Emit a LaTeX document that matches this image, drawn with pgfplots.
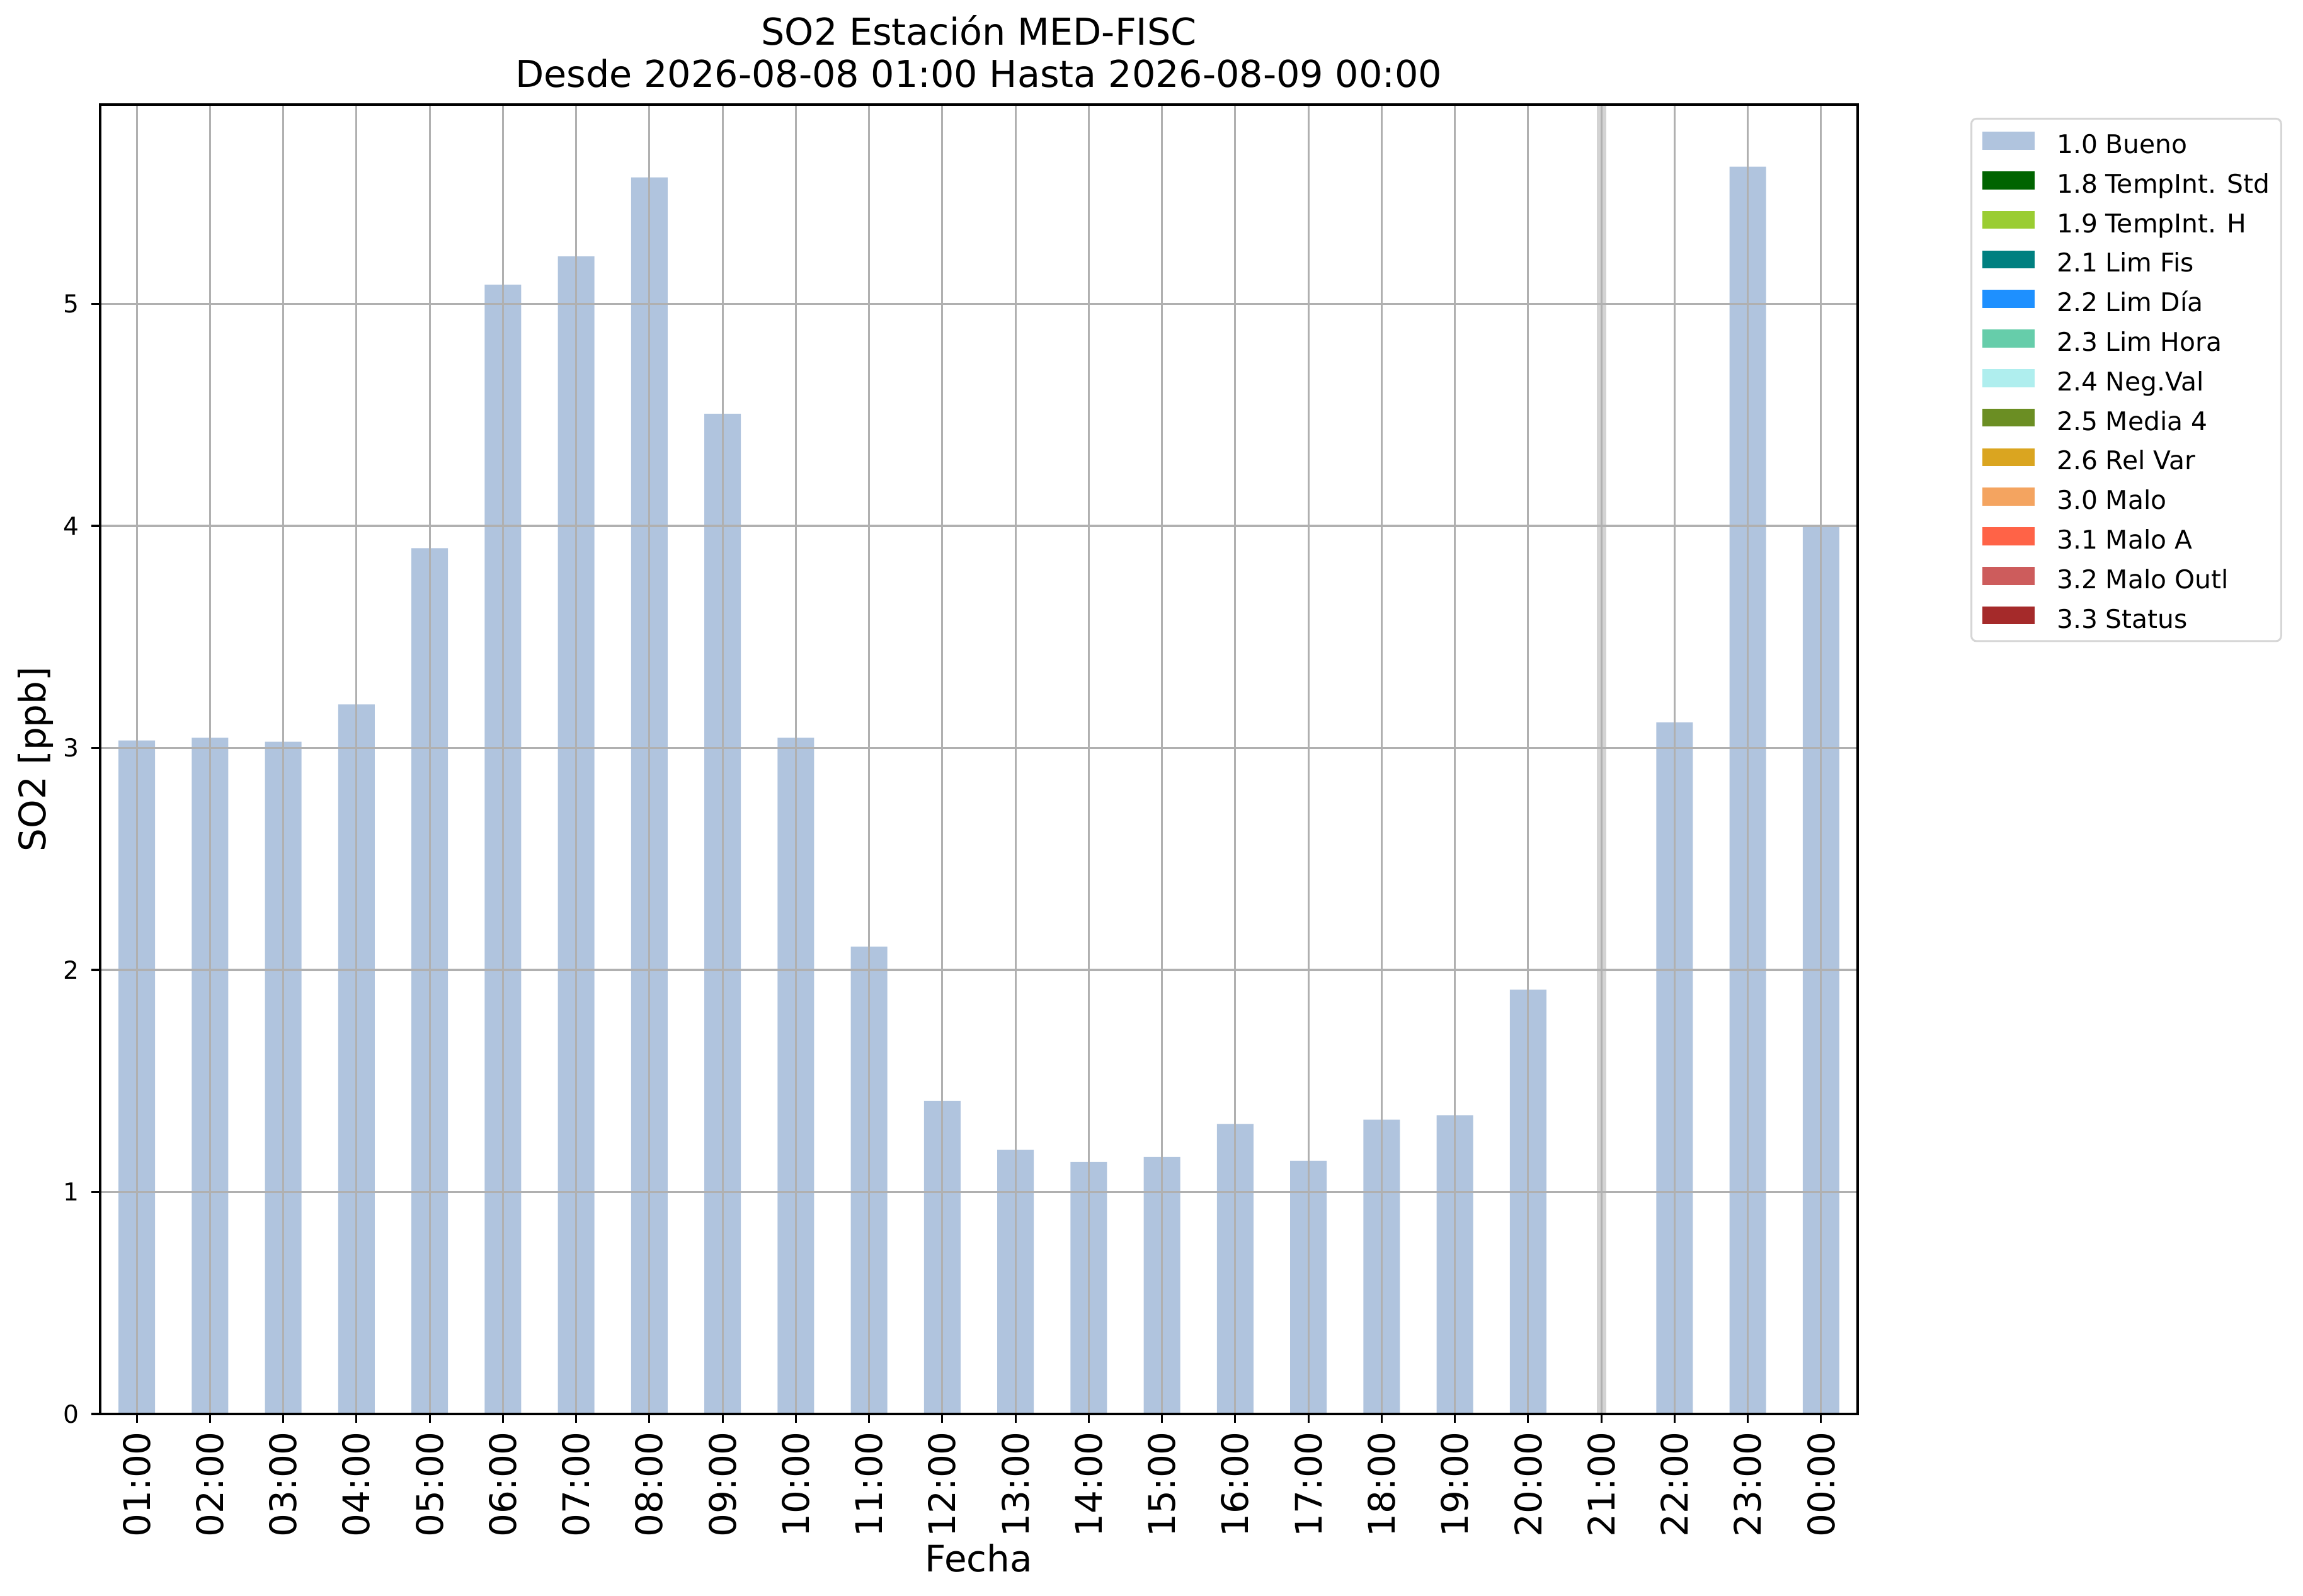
\documentclass[border=0pt]{standalone}
\usepackage{fontspec}
\setmainfont{DejaVu Sans}
\usepackage{pgfplots}
\pgfplotsset{compat=1.18}
\definecolor{bueno}{HTML}{B0C4DE}
\definecolor{gridc}{HTML}{B0B0B0}
\definecolor{bandc}{HTML}{D3D3D3}
\definecolor{legedge}{HTML}{D6D6D6}
\definecolor{c18}{HTML}{006400}
\definecolor{c19}{HTML}{9ACD32}
\definecolor{c21}{HTML}{008080}
\definecolor{c22}{HTML}{1E90FF}
\definecolor{c23}{HTML}{66CDAA}
\definecolor{c24}{HTML}{AFEEEE}
\definecolor{c25}{HTML}{6B8E23}
\definecolor{c26}{HTML}{DAA520}
\definecolor{c30}{HTML}{F4A460}
\definecolor{c31}{HTML}{FF6347}
\definecolor{c32}{HTML}{CD5C5C}
\definecolor{c33}{HTML}{A52A2A}
\begin{document}
\begin{tikzpicture}
\begin{axis}[
  scale only axis,
  width=697.5pt, height=519.75pt,
  xmin=-0.5, xmax=23.5,
  ymin=0, ymax=5.898,
  axis on top,
  axis line style={line width=0.78pt},
  xtick={0,...,23},
  xticklabels={01:00,02:00,03:00,04:00,05:00,06:00,07:00,08:00,09:00,10:00,11:00,12:00,13:00,14:00,15:00,16:00,17:00,18:00,19:00,20:00,21:00,22:00,23:00,00:00},
  ytick={0,1,2,3,4,5},
  tick align=outside,
  tick pos=left,
  major tick length=3.43pt,
  every tick/.style={black, line width=0.78pt},
  grid=major,
  major grid style={gridc, line width=0.78pt},
  /pgf/number format/assume math mode=true,
  xticklabel style={font=\fontsize{14.5}{17}\selectfont, rotate=90, anchor=east, inner sep=0pt},
  xticklabel shift=3.4pt,
  yticklabel style={font=\fontsize{9.8}{12}\selectfont, anchor=east, inner sep=0pt},
  yticklabel shift=4.7pt,
  title={SO2 Estación MED-FISC\\Desde 2026-08-08 01:00 Hasta 2026-08-09 00:00},
  title style={font=\fontsize{14.7}{16.7}\selectfont, align=center, at={(axis description cs:0.5,1)}, anchor=south, inner sep=0pt, yshift=0.4pt},
  xlabel={Fecha},
  xlabel style={font=\fontsize{14.5}{17}\selectfont, at={(axis description cs:0.5,0)}, anchor=center, yshift=-57.25pt, inner sep=0pt},
  ylabel={SO2 [ppb]},
  ylabel style={font=\fontsize{14.5}{17}\selectfont, at={(axis description cs:0,0.5)}, anchor=center, yshift=25.75pt, inner sep=0pt},
  legend cell align=left,
  legend style={at={(1,1)}, anchor=north west, xshift=44.75pt, yshift=-5.25pt,
    draw=legedge, line width=0.75pt, rounded corners=2pt, fill=white,
    font=\fontsize{10.2}{12}\selectfont,
    inner xsep=4.4pt, inner ysep=5.2pt,
    row sep=7.15pt, column sep=8.75pt,
    nodes={inner sep=0pt, text height=7.4pt, text depth=0pt}},
  legend image code/.code={\fill[#1, draw=none, sharp corners] (0pt,-2.3pt) rectangle (20.75pt,4.85pt);},
]
\addplot[fill=bandc, draw=none, forget plot] coordinates {(19.9355,0) (20.0645,0) (20.0645,5.898) (19.9355,5.898)} -- cycle;
\addplot[ybar, bar width=0.5, fill=bueno, draw=none] coordinates {
(0,3.034) (1,3.046) (2,3.028) (3,3.196) (4,3.900) (5,5.087) (6,5.214) (7,5.570)
(8,4.505) (9,3.046) (10,2.105) (11,1.410) (12,1.190) (13,1.135) (14,1.158) (15,1.306)
(16,1.141) (17,1.326) (18,1.346) (19,1.911) (21,3.115) (22,5.618) (23,4.000)};
\addlegendentry{1.0 Bueno}
\addlegendimage{fill=c18}\addlegendentry{1.8 TempInt. Std}
\addlegendimage{fill=c19}\addlegendentry{1.9 TempInt. H}
\addlegendimage{fill=c21}\addlegendentry{2.1 Lim Fis}
\addlegendimage{fill=c22}\addlegendentry{2.2 Lim Día}
\addlegendimage{fill=c23}\addlegendentry{2.3 Lim Hora}
\addlegendimage{fill=c24}\addlegendentry{2.4 Neg.Val}
\addlegendimage{fill=c25}\addlegendentry{2.5 Media 4}
\addlegendimage{fill=c26}\addlegendentry{2.6 Rel Var}
\addlegendimage{fill=c30}\addlegendentry{3.0 Malo}
\addlegendimage{fill=c31}\addlegendentry{3.1 Malo A}
\addlegendimage{fill=c32}\addlegendentry{3.2 Malo Outl}
\addlegendimage{fill=c33}\addlegendentry{3.3 Status}
\end{axis}
\pgfresetboundingbox
\path (current axis.south west) ++(-39.75pt,-72.25pt) rectangle ++(914pt,633.5pt);
\end{tikzpicture}
\end{document}
